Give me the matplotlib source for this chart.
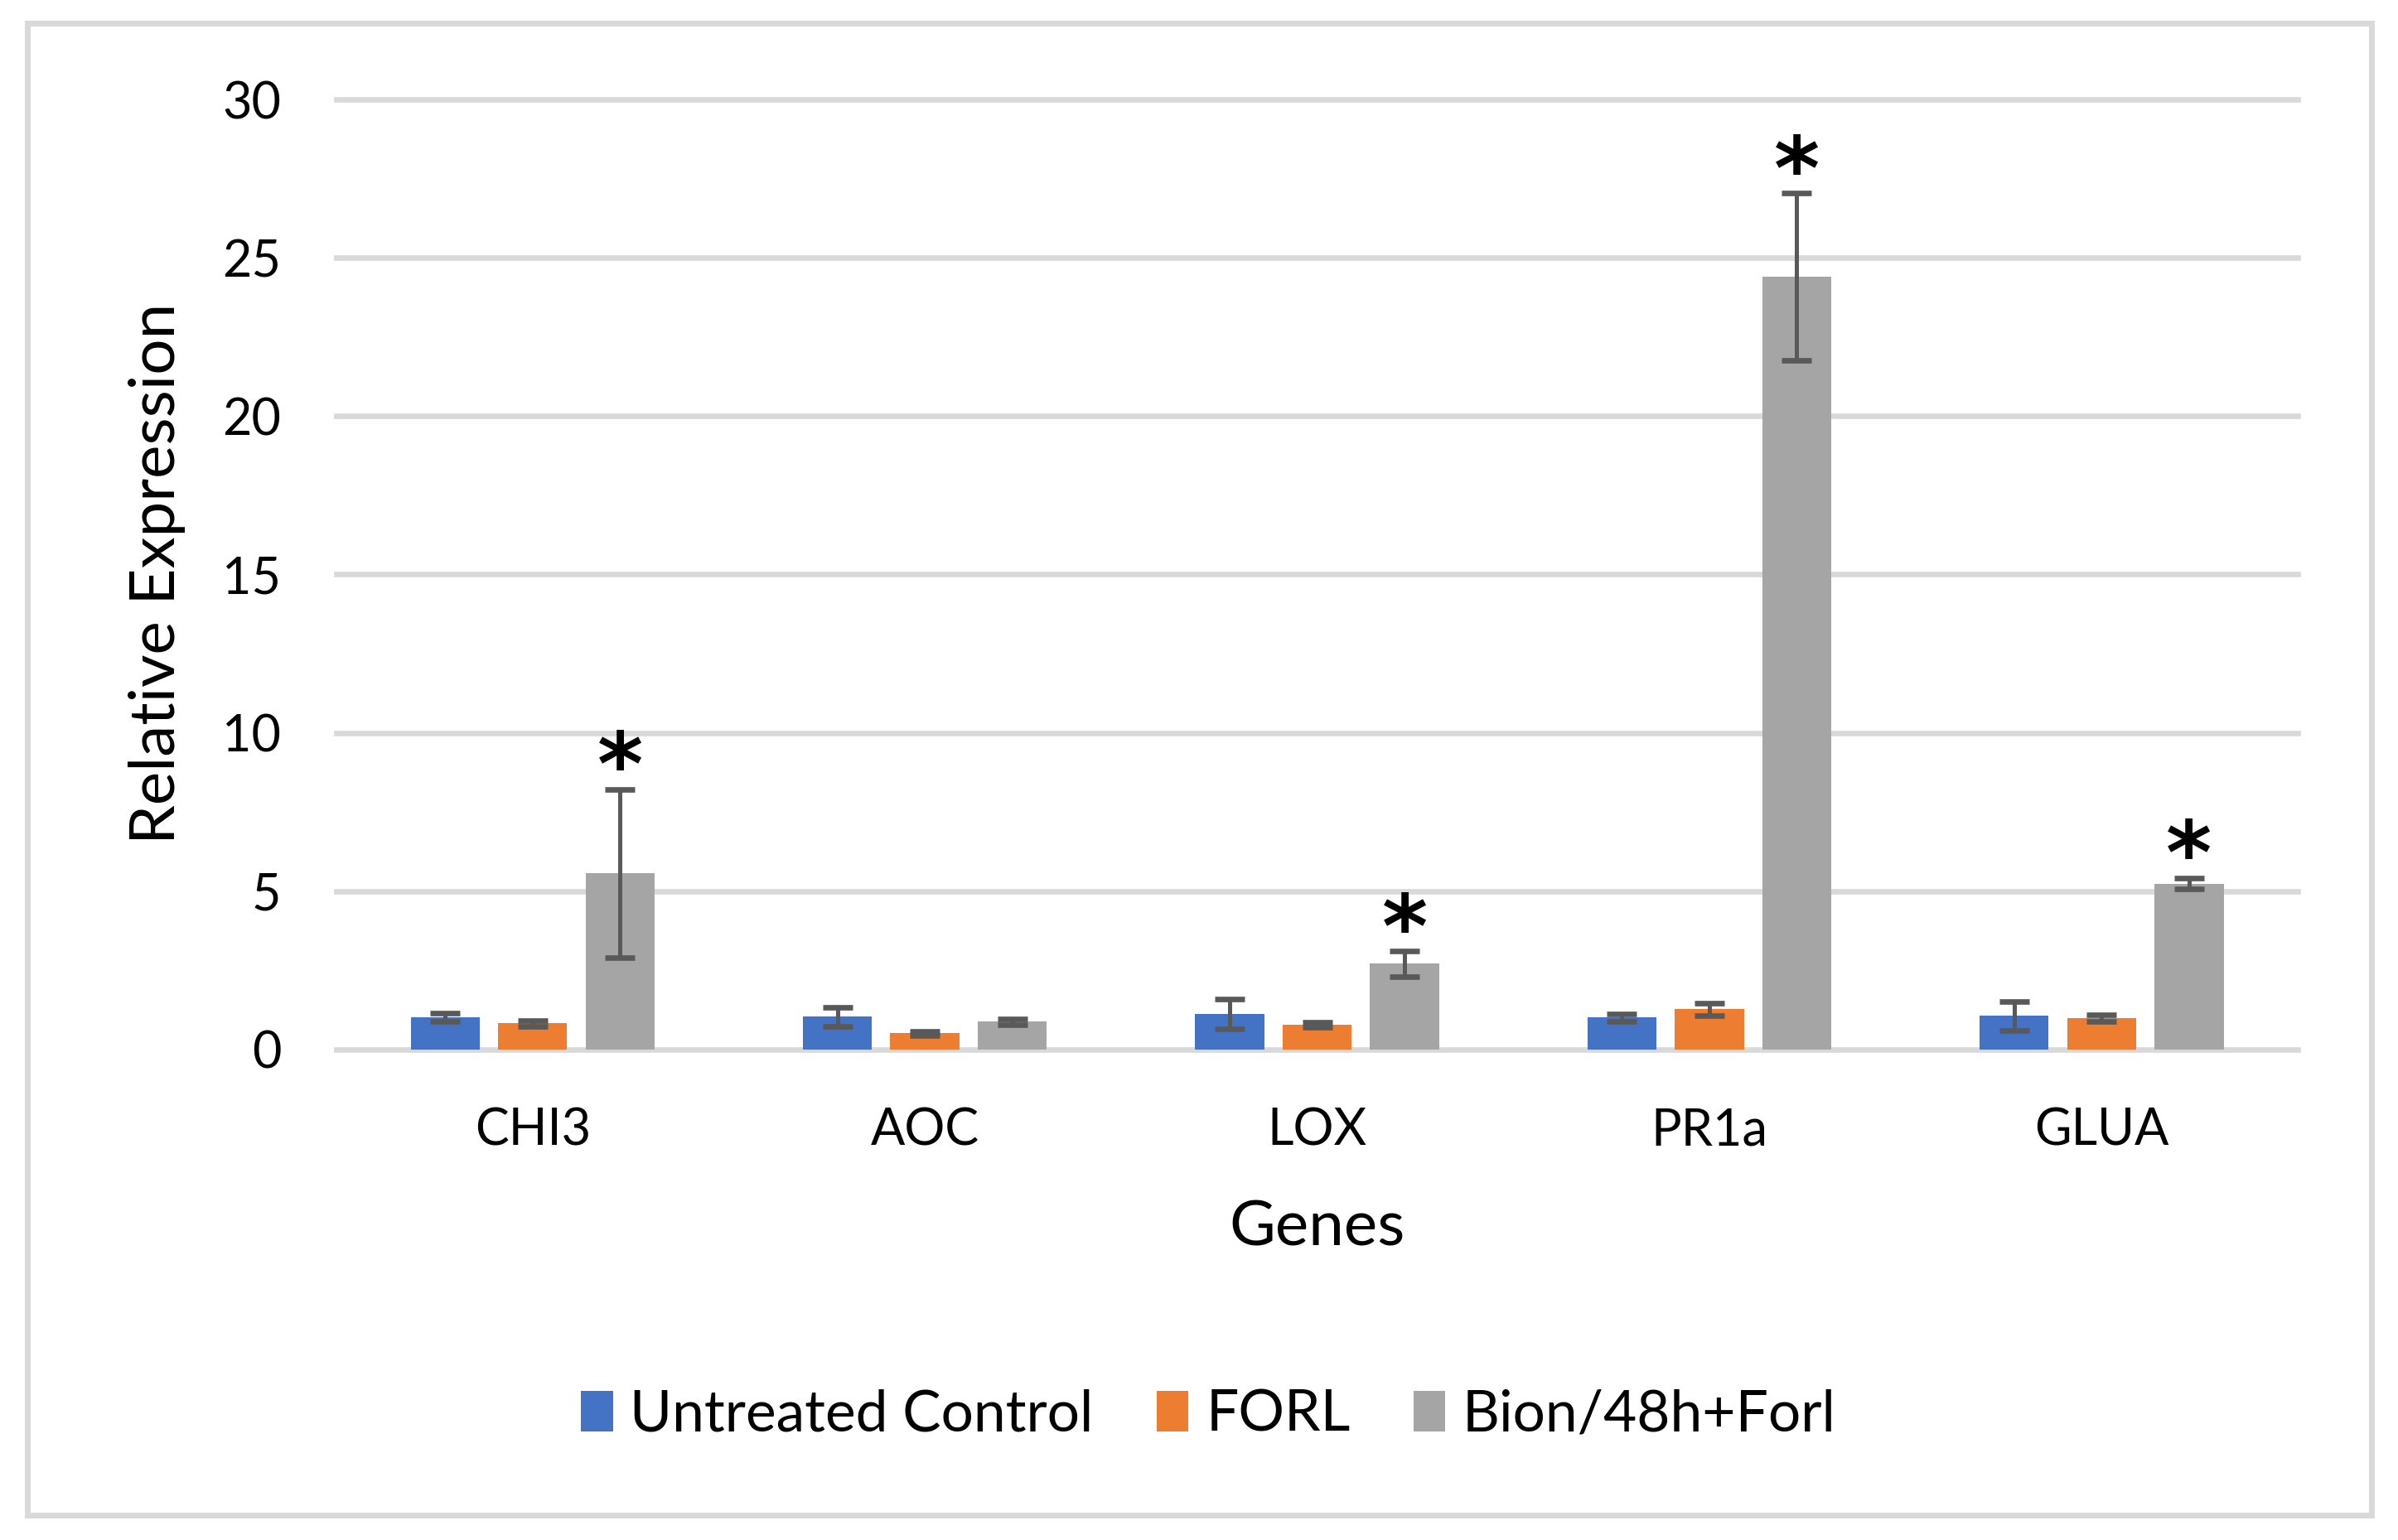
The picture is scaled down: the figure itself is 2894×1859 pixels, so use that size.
import numpy as np
import matplotlib
matplotlib.use("Agg")
import matplotlib.pyplot as plt
from matplotlib.patches import Rectangle, Patch

plt.rcParams['font.family'] = ['Lato', 'DejaVu Sans']

# data
genes = ["CHI3", "AOC", "LOX", "PR1a", "GLUA"]
series = ["Untreated Control", "FORL", "Bion/48h+Forl"]
control = [1.01, 1.04, 1.12, 1.01, 1.06]
control_err = [0.13, 0.30, 0.47, 0.12, 0.46]
forl = [0.83, 0.51, 0.78, 1.27, 0.99]
forl_err = [0.09, 0.07, 0.08, 0.19, 0.11]
bion = [5.56, 0.88, 2.71, 24.4, 5.24]
bion_err = [2.66, 0.09, 0.40, 2.65, 0.18]
significant = [True, False, True, True, True]

colors = ["#4472C4", "#ED7D31", "#A5A5A5"]
err_color = "#595959"
grid_color = "#D9D9D9"

fig = plt.figure(figsize=(28.94, 18.59), dpi=100)
ax = fig.add_axes([0.1403, 0.3185, 0.8179, 0.6169])

x = np.arange(len(genes))
w = 0.176
step = 0.223
vals = [control, forl, bion]
errs = [control_err, forl_err, bion_err]
for i in range(3):
    ax.bar(x + (i - 1) * step, vals[i], w, color=colors[i], zorder=2,
           yerr=errs[i], ecolor=err_color,
           error_kw=dict(elinewidth=3.6, capsize=13, capthick=4.8, zorder=3))

# significance stars
for j in range(len(genes)):
    if significant[j]:
        ax.annotate("*", xy=(x[j] + step, bion[j] + bion_err[j]),
                    xytext=(0, 16), textcoords="offset points",
                    ha="center", va="center", fontsize=76, fontweight="bold",
                    family="DejaVu Sans")

ax.set_xlim(-0.5, len(genes) - 0.5)
ax.set_ylim(0, 30)
ax.set_yticks([0, 5, 10, 15, 20, 25, 30])
ax.set_xticks(x)
ax.set_xticklabels(genes)
ax.tick_params(axis="both", length=0, labelsize=44)
ax.tick_params(axis="x", pad=50)
ax.tick_params(axis="y", pad=48)
ax.yaxis.grid(True, color=grid_color, linewidth=4.8)
ax.set_axisbelow(True)
for line in ax.get_ygridlines():
    line.set_clip_on(False)
for s in ax.spines.values():
    s.set_visible(False)

ax.set_xlabel("Genes", fontsize=55, va="center")
ax.xaxis.set_label_coords(0.5, -0.1875)
ax.set_ylabel("Relative Expression", fontsize=55, va="center")
ax.yaxis.set_label_coords(-0.0913, 0.501)

handles = [Patch(facecolor=c, edgecolor="none") for c in colors]
fig.legend(handles, series, loc="center", bbox_to_anchor=(0.504, 0.081),
           ncol=3, frameon=False, fontsize=50, handlelength=0.55,
           handleheight=0.7, handletextpad=0.3, columnspacing=1.1)

# outer chart border
fig.patches.append(Rectangle((33 / 2894, 1 - 1829 / 1859), (2862 - 33) / 2894,
                             (1829 - 28) / 1859, transform=fig.transFigure,
                             fill=False, edgecolor=grid_color, linewidth=5))

fig.savefig("out.png", dpi=100)
